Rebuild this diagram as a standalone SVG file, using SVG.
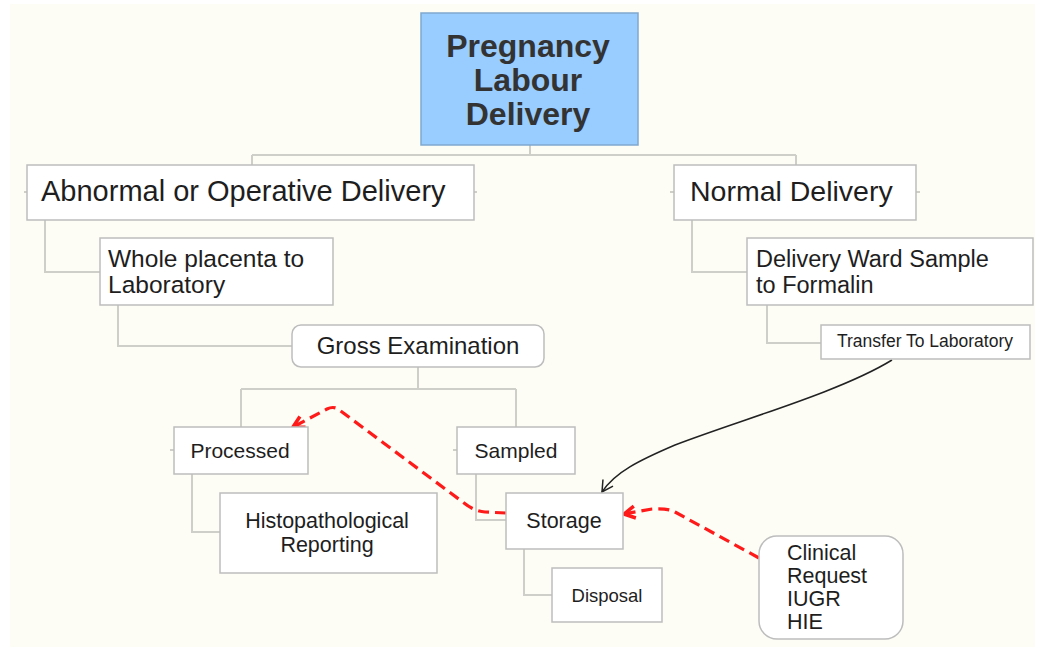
<svg xmlns="http://www.w3.org/2000/svg" width="1039" height="651" viewBox="0 0 1039 651">
<defs>
<style>
.bg{fill:#FDFDF6}
.box{fill:#FFFFFF;stroke:#BDBDBD;stroke-width:1.5}
.top{fill:#99CCFF;stroke:#7FA8D0;stroke-width:1.5}
.ln{fill:none;stroke:#CFCFCA;stroke-width:2}
.t{font-family:"Liberation Sans",Arial,sans-serif;fill:#1E1E1E}
.tb{font-family:"Liberation Sans",Arial,sans-serif;font-weight:bold;fill:#333333;font-size:32px;text-anchor:middle}
.red{fill:none;stroke:#FF1A1A;stroke-width:3.2;stroke-dasharray:11 6}
.blk{fill:none;stroke:#222222;stroke-width:1.5}
</style>
<marker id="ah-red" viewBox="0 0 16 16" refX="13" refY="8" markerWidth="16" markerHeight="16" markerUnits="userSpaceOnUse" orient="auto">
<path d="M2,2 L13,8 L2,14" fill="none" stroke="#FF1A1A" stroke-width="3.5" stroke-linejoin="round"/>
</marker>
<marker id="ah-blk" viewBox="0 0 14 14" refX="12" refY="7" markerWidth="14" markerHeight="14" markerUnits="userSpaceOnUse" orient="auto">
<path d="M1,1 L12,7 L1,13" fill="none" stroke="#222222" stroke-width="1.5"/>
</marker>
</defs>
<rect x="0" y="0" width="1039" height="651" fill="#FFFFFF"/>
<rect class="bg" x="10" y="4" width="1025" height="643"/>

<g id="connectors">
<path class="ln" d="M530,145 V155 M252,155 H796 M252,155 V165 M796,155 V165"/>
<path class="ln" d="M24,192 H27 M474,192 H477 M670,192 H674 M916,192 H920"/>
<path class="ln" d="M45,220 V272 H100"/>
<path class="ln" d="M692,220 V272 H747"/>
<path class="ln" d="M118,305 V346 H292"/>
<path class="ln" d="M767,305 V343 H821"/>
<path class="ln" d="M418,367 V389 M241,389 H516 M241,389 V427 M516,389 V427"/>
<path class="ln" d="M170,450 H174 M453,450 H457"/>
<path class="ln" d="M192,474 V532 H220"/>
<path class="ln" d="M476,474 V520 H506"/>
<path class="ln" d="M524,549 V595 H552"/>
<path class="blk" d="M892,360 C840,392 740,420 675,445 C640,460 615,472 602,492" marker-end="url(#ah-blk)"/>
<path class="red" d="M759,558 L675,512 Q668,508 652,509 L624,514" marker-end="url(#ah-red)"/>
<path class="red" d="M506,513 L485,512 Q474,511 464,503 L338,409 Q333,406 327,409 L293,427" marker-end="url(#ah-red)"/>
</g>

<g id="node-top">
<rect class="top" x="421" y="13" width="217" height="132"/>
<text class="tb" x="528" y="57">Pregnancy</text>
<text class="tb" x="528" y="91">Labour</text>
<text class="tb" x="528" y="125">Delivery</text>
</g>

<g id="node-abnormal">
<rect class="box" x="27" y="165" width="447" height="55"/>
<text class="t" x="41" y="201" font-size="29">Abnormal or Operative Delivery</text>
</g>

<g id="node-normal">
<rect class="box" x="674" y="165" width="242" height="55"/>
<text class="t" x="690" y="201" font-size="28.5">Normal Delivery</text>
</g>

<g id="node-whole">
<rect class="box" x="100" y="238" width="233" height="67"/>
<text class="t" x="108" y="267" font-size="24.5">Whole placenta to</text>
<text class="t" x="108" y="293" font-size="24.5">Laboratory</text>
</g>

<g id="node-ward">
<rect class="box" x="747" y="238" width="286" height="67"/>
<text class="t" x="756" y="267" font-size="23.5">Delivery Ward Sample</text>
<text class="t" x="756" y="293" font-size="23.5">to Formalin</text>
</g>

<g id="node-gross">
<rect class="box" x="292" y="325" width="252" height="42" rx="9"/>
<text class="t" x="418" y="354" font-size="24" text-anchor="middle">Gross Examination</text>
</g>

<g id="node-transfer">
<rect class="box" x="821" y="325" width="209" height="34"/>
<text class="t" x="925" y="347" font-size="17.5" text-anchor="middle">Transfer To Laboratory</text>
</g>

<g id="node-processed">
<rect class="box" x="174" y="427" width="134" height="47"/>
<text class="t" x="240" y="458" font-size="21" text-anchor="middle">Processed</text>
</g>

<g id="node-sampled">
<rect class="box" x="457" y="427" width="118" height="47"/>
<text class="t" x="516" y="458" font-size="21" text-anchor="middle">Sampled</text>
</g>

<g id="node-histo">
<rect class="box" x="220" y="493" width="217" height="80"/>
<text class="t" x="327" y="528" font-size="21.5" text-anchor="middle">Histopathological</text>
<text class="t" x="327" y="552" font-size="21.5" text-anchor="middle">Reporting</text>
</g>

<g id="node-storage">
<rect class="box" x="506" y="493" width="117" height="56"/>
<text class="t" x="564" y="528" font-size="21.5" text-anchor="middle">Storage</text>
</g>

<g id="node-disposal">
<rect class="box" x="552" y="568" width="110" height="54"/>
<text class="t" x="607" y="602" font-size="18.5" text-anchor="middle">Disposal</text>
</g>

<g id="node-clinical">
<rect class="box" x="759" y="536" width="144" height="103" rx="18"/>
<text class="t" x="787" y="560" font-size="21.5">Clinical</text>
<text class="t" x="787" y="583" font-size="21.5">Request</text>
<text class="t" x="787" y="606" font-size="21.5">IUGR</text>
<text class="t" x="787" y="629" font-size="21.5">HIE</text>
</g>
</svg>
